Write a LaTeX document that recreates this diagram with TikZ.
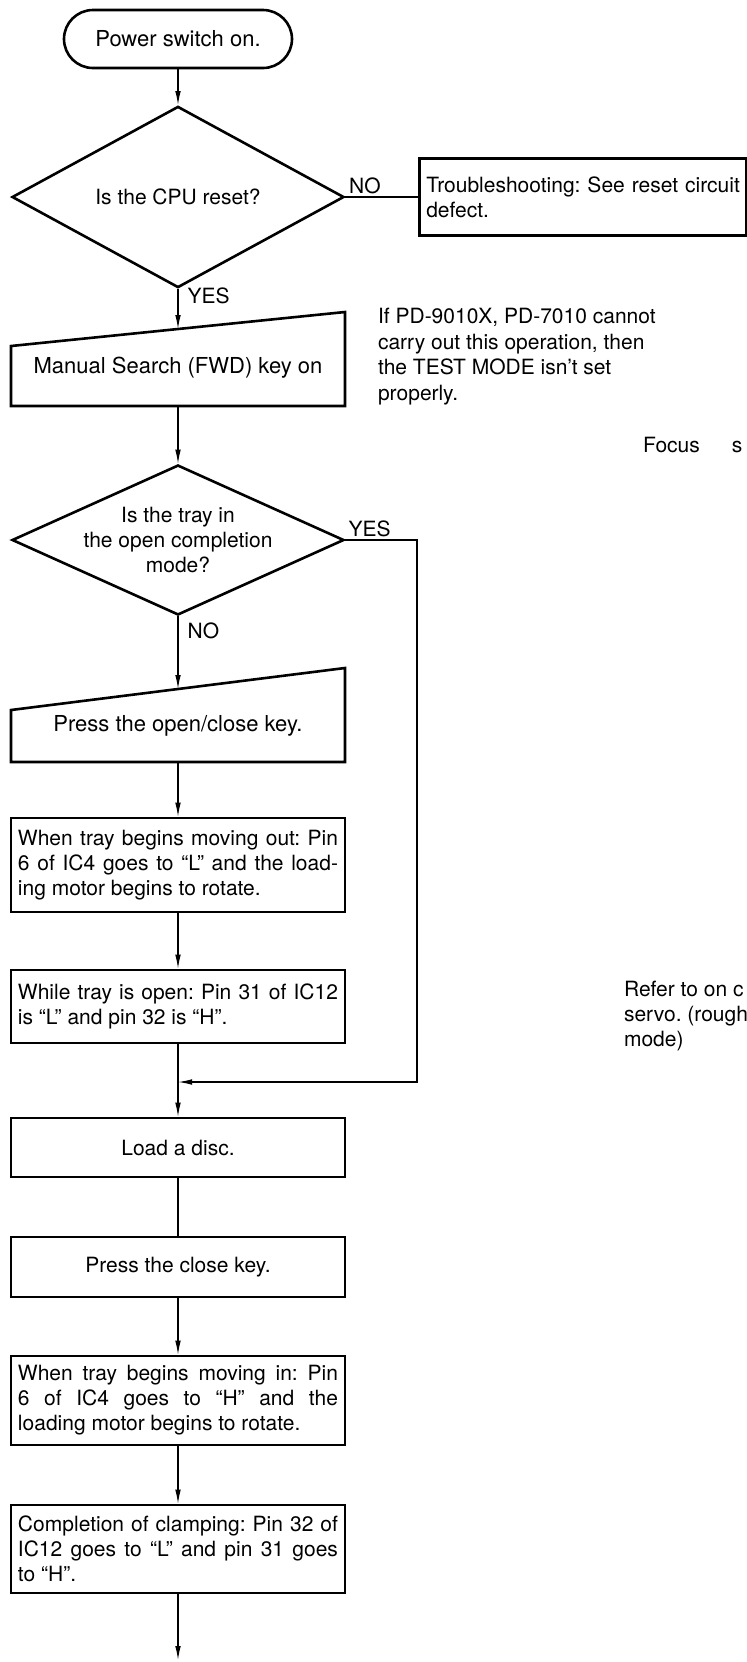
\documentclass[tikz,border=0pt]{standalone}
\usepackage{fontspec}
\setmainfont{TeX Gyre Heros}
\usetikzlibrary{shapes.geometric, arrows.meta}
\frenchspacing

\begin{document}
\begin{tikzpicture}[x=0.5pt,y=-0.5pt,>={Latex[length=7pt,width=2.8pt]},
    every node/.style={font=\fontsize{10.5}{12.5}\selectfont},
    flow/.style={line width=0.6pt},
    outline/.style={line width=1.3pt, line join=miter},
    startstop/.style={draw, line width=1.3pt, rounded corners=14.5pt, minimum width=114pt, minimum height=29pt},
    decision/.style={draw, diamond, line width=1.3pt, minimum width=166pt, minimum height=75pt, inner sep=0pt},
    stepbox/.style={draw, line width=1.3pt, minimum width=167pt, text width=160pt, inner xsep=3.5pt, align=justify},
    plainbox/.style={draw, line width=1.3pt, minimum width=167pt, align=center},
    manualin/.style={minimum width=167pt, inner sep=0pt, outer sep=0pt, align=center},
    tag/.style={inner sep=1.5pt}]

    \useasboundingbox (0,0) rectangle (746,1662);

    % start of the check
    \node[startstop, font=\fontsize{11}{12.5}\selectfont] (power) at (178,39) {Power switch on.};

    % reset question and its way out
    \node[decision] (cpu) at (178,197) {Is the CPU reset?};
    \node[draw, line width=1.3pt, anchor=west, minimum width=163.5pt, minimum height=38.5pt, text width=156.5pt, inner xsep=3.5pt, align=left] (reset) at (418,197) {\mbox{Troubleshooting: See reset circuit}\\defect.};

    % manual input, slanted top
    \node[manualin, minimum height=38.5pt, font=\fontsize{11}{12.5}\selectfont] (manual) at (178,367.5) {Manual Search (FWD) key on};
    \draw[outline] (manual.south west) -- (manual.south east) -- ([yshift=8.5pt]manual.north east) -- ([yshift=-8.5pt]manual.north west) -- cycle;

    % tray question
    \node[decision] (tray) at (178,540) {};
    \node[align=center] (traytext) at (tray) {Is the tray in\\the open completion\\mode?};

    \node[manualin, minimum height=36.5pt, font=\fontsize{11}{12.5}\selectfont] (openkey) at (178,725.5) {Press the open/close key.};
    \draw[outline] (openkey.south west) -- (openkey.south east) -- ([yshift=10.5pt]openkey.north east) -- ([yshift=-10.5pt]openkey.north west) -- cycle;

    % tray steps
    \node[stepbox, minimum height=47pt] (moveout) at (178,865) {When tray begins moving out: Pin\linebreak 6 of IC4 goes to ``L'' and the load-\linebreak ing motor begins to rotate.};
    \node[stepbox, minimum height=36.5pt] (trayopen) at (178,1006.5) {While tray is open: Pin 31 of IC12\linebreak is ``L'' and pin 32 is ``H''.};
    \node[plainbox, minimum height=29.5pt] (load) at (178,1147.5) {Load a disc.};
    \node[plainbox, minimum height=30pt] (closekey) at (178,1267) {Press the close key.};
    \node[stepbox, minimum height=44.5pt] (movein) at (178,1400.5) {When tray begins moving in: Pin\linebreak 6 of IC4 goes to ``H'' and the\linebreak loading motor begins to rotate.};
    \node[stepbox, minimum height=44pt] (clamp) at (178,1549) {Completion of clamping: Pin 32 of\linebreak IC12 goes to ``L'' and pin 31 goes\linebreak to ``H''.};

    % notes on the right
    \node[anchor=west, align=left, font=\fontsize{10.5}{12.75}\selectfont] (note) at (371,356.5) {If PD-9010X, PD-7010 cannot\\carry out this operation, then\\the TEST MODE isn't set\\properly.};
    \node[anchor=west] (focus) at (636,445) {Focus\hspace{16pt}s};
    \node[anchor=west, align=left] (refer) at (617,1016) {Refer to on c\\servo. (rough\\mode)};

    % connectors
    \coordinate (bypass) at (417,1082);
    \coordinate (join) at (178,1082);
    \coordinate (onward) at (178,1660);

    \draw[flow,->] (power) -- (cpu);
    \draw[flow] (cpu.east) -- node[tag, above, pos=0.27] (no1) {NO} (reset.west);
    \draw[flow,->] (cpu.south) -- node[tag, right=3pt, pos=0.16] (yes1) {YES} (manual.north);
    \draw[flow,->] (manual.south) -- (tray.north);
    \draw[flow,->] (tray.south) -- node[tag, right=3pt, pos=0.2] (no2) {NO} (openkey.north);
    \draw[flow,->] (openkey.south) -- (moveout.north);
    \draw[flow,->] (moveout) -- (trayopen);
    \draw[flow,->] (trayopen) -- (load);
    \draw[flow,->] (tray.east) -| node[tag, above, pos=0.17] (yes2) {YES} (bypass) -- (join);
    \draw[flow] (load) -- (closekey);
    \draw[flow,->] (closekey) -- (movein);
    \draw[flow,->] (movein) -- (clamp);
    \draw[flow,->] (clamp) -- (onward);
\end{tikzpicture}
\end{document}
